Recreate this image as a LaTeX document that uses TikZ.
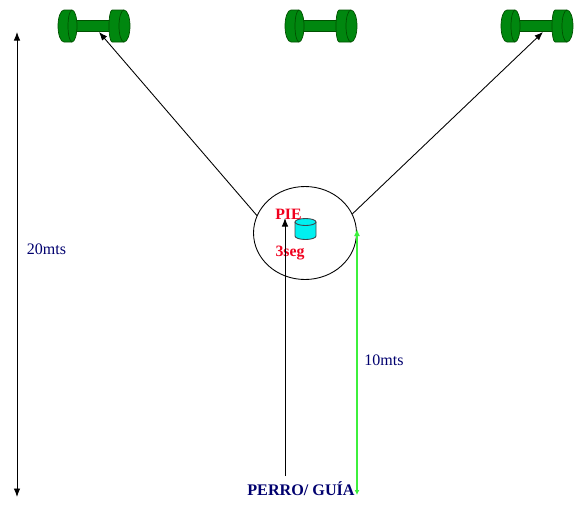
\documentclass[tikz,border=0pt]{standalone}
\usepackage{fontspec}
\setmainfont{Liberation Serif}
\usepackage{tikz}
\usetikzlibrary{arrows.meta,calc,positioning,shapes.geometric}
\definecolor{belldark}{RGB}{0,80,0}
\definecolor{bellgreen}{RGB}{0,135,15}
\definecolor{navytext}{RGB}{0,0,110}
\definecolor{redtext}{RGB}{240,0,30}
\definecolor{tubcyan}{RGB}{0,240,240}
\definecolor{linegreen}{RGB}{60,240,60}
\tikzset{wheel/.style={draw=belldark,fill=bellgreen,line width=0.4pt},
         lbl/.style={inner sep=0pt,font=\fontsize{9.1pt}{11pt}\selectfont},
         arr/.style={{Latex[length=0.17cm,width=0.13cm]}-{Latex[length=0.17cm,width=0.13cm]},line width=0.5pt}}

\begin{document}
\begin{tikzpicture}[x=0.02cm,y=-0.02cm,>={Latex[length=0.17cm,width=0.13cm]}]
   \useasboundingbox (0,0) rectangle (584,518);
   % dumbbells
   \foreach \xb in {94,321,537} {
      \begin{scope}[shift={(\xb,26)}]
         \draw[wheel] (-18,-6) rectangle (18,5);
         \draw[wheel] (-30,-16) -- (-22,-16) arc[start angle=-90,end angle=90,x radius=5,y radius=16]
                      -- (-30,16) arc[start angle=90,end angle=270,x radius=6,y radius=16] -- cycle;
         \draw[wheel] (-22,-16) arc[start angle=270,end angle=90,x radius=4,y radius=16];
         \draw[wheel] (18,-16) -- (30,-16) arc[start angle=-90,end angle=90,x radius=6,y radius=16]
                      -- (18,16) arc[start angle=90,end angle=270,x radius=3,y radius=16] -- cycle;
         \draw[wheel] (30,-16) arc[start angle=270,end angle=90,x radius=5,y radius=16];
      \end{scope}
   }
   \coordinate (bellA) at (99,32);
   \coordinate (bellC) at (543,32);
   % ring with the tub
   \node[ellipse,draw,line width=0.5pt,inner sep=0pt,minimum width=2.06cm,minimum height=1.86cm] (ring) at (305,233) {};
   \draw[draw=black!80!cyan,fill=tubcyan,line width=0.5pt] (295,222) -- (295,236)
      arc[start angle=180,end angle=0,x radius=10.5,y radius=3.5] -- (316,222);
   \draw[draw=black!80!cyan,fill=tubcyan,line width=0.5pt] (305.5,222) ellipse[x radius=10.5,y radius=3.5];
   % labels
   \node[lbl,text=navytext] (dist) at (46.5,249) {20mts};
   \node[lbl,text=navytext] (half) at (384,360) {10mts};
   \node[lbl,text=navytext,font=\fontsize{9.2pt}{11pt}\selectfont\bfseries] (start) at (301,489) {PERRO/ GUÍA};
   \node[lbl,text=redtext,font=\fontsize{9pt}{11pt}\selectfont\bfseries] (pie) at (288.5,214) {PIE};
   \node[lbl,text=redtext,font=\fontsize{9pt}{11pt}\selectfont\bfseries] (wait) at (290,253) {3seg};
   % ends of the arrows
   \coordinate (top) at (17,32);
   \coordinate (bot) at (17,497);
   \coordinate (pa) at (285,476);
   \coordinate (pb) at (285,218);
   \coordinate (ga) at (357,495);
   \coordinate (gb) at (357,229);
   \draw[arr] (top) -- (bot);
   \draw[->,line width=0.5pt] (pa) -- (pb);
   \draw[{Latex[length=0.1cm,width=0.1cm]}-{Latex[length=0.14cm,width=0.12cm]},draw=linegreen,line width=1pt] (ga) -- (gb);
   \draw[->,line width=0.5pt] (ring.160) -- (bellA);
   \draw[->,line width=0.5pt] (ring.22) -- (bellC);
\end{tikzpicture}
\end{document}
